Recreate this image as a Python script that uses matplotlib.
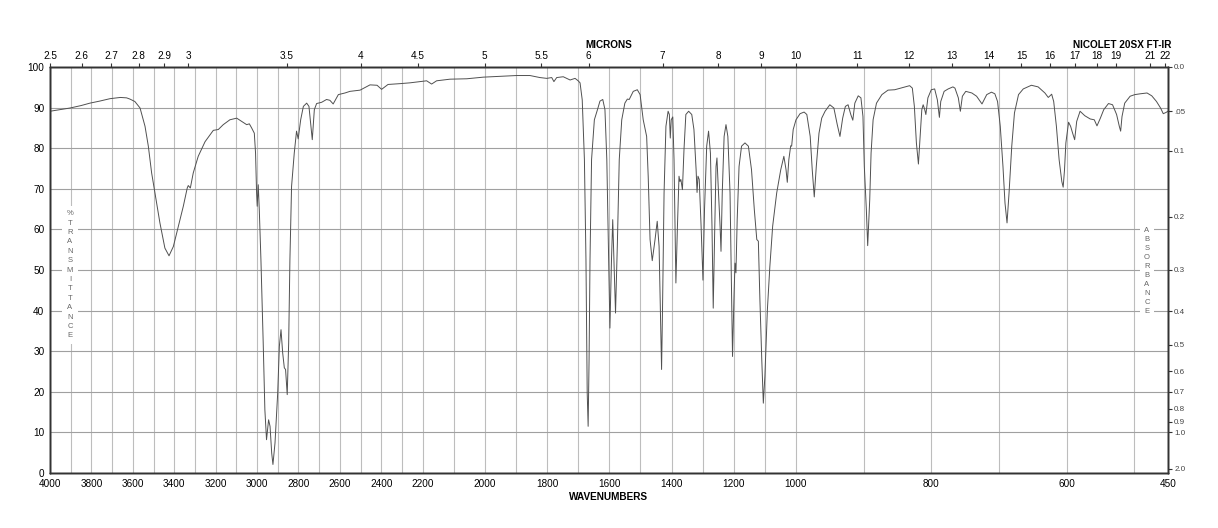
import numpy as np
import matplotlib
matplotlib.use('Agg')
import matplotlib.pyplot as plt

plt.rcParams['font.family'] = ['Liberation Sans', 'DejaVu Sans']

# --- spectrum (wavenumber cm-1, %T) ---
wavenumber = [
    4000, 3950, 3903, 3850, 3807, 3760, 3710, 3660, 3630, 3614, 3590, 3565, 3541, 3525,
    3509, 3493, 3469, 3445, 3425, 3404, 3380, 3356, 3337, 3332, 3322, 3308, 3284, 3251,
    3211, 3187, 3163, 3131, 3098, 3074, 3050, 3037, 3026, 3013, 3007, 3002, 2999, 2994,
    2989, 2981, 2970, 2962, 2954, 2944, 2937, 2929, 2923, 2913, 2900, 2892, 2884, 2876,
    2868, 2862, 2854, 2847, 2841, 2833, 2820, 2809, 2801, 2789, 2776, 2760, 2749, 2741,
    2733, 2723, 2712, 2688, 2664, 2648, 2632, 2607, 2575, 2551, 2502, 2454, 2420, 2398,
    2367, 2309, 2261, 2213, 2187, 2171, 2155, 2112, 2058, 2005, 1951, 1898, 1855, 1823,
    1801, 1785, 1778, 1769, 1748, 1726, 1710, 1700, 1694, 1687, 1680, 1675, 1671, 1668,
    1665, 1662, 1657, 1648, 1638, 1630, 1621, 1614, 1608, 1603, 1598, 1593, 1589, 1585,
    1580, 1574, 1568, 1560, 1550, 1542, 1536, 1523, 1510, 1501, 1491, 1480, 1475, 1469,
    1462, 1453, 1446, 1440, 1435, 1432, 1429, 1424, 1418, 1411, 1407, 1404, 1401, 1396,
    1392, 1388, 1386, 1381, 1376, 1373, 1370, 1365, 1360, 1354, 1345, 1335, 1328, 1321,
    1318, 1315, 1311, 1305, 1299, 1294, 1287, 1281, 1275, 1270, 1266, 1261, 1257, 1254,
    1250, 1244, 1241, 1237, 1231, 1225, 1219, 1212, 1207, 1204, 1199, 1196, 1193, 1189,
    1183, 1175, 1164, 1153, 1143, 1134, 1126, 1121, 1116, 1110, 1105, 1100, 1092, 1084,
    1075, 1062, 1049, 1039, 1032, 1028, 1023, 1017, 1014, 1009, 1000, 994, 988, 984,
    979, 976, 973, 970, 966, 962, 957, 950, 944, 939, 935, 931, 927, 923,
    919, 916, 913, 908, 904, 901, 899, 896, 894, 891, 889, 886, 881, 873,
    864, 854, 841, 832, 828, 825, 822, 819, 817, 814, 812, 810, 808, 805,
    800, 795, 791, 788, 786, 781, 775, 768, 765, 760, 757, 754, 749, 740,
    733, 725, 718, 711, 706, 702, 698, 694, 691, 688, 685, 681, 677, 671,
    664, 652, 642, 632, 627, 622, 619, 615, 611, 607, 605, 603, 601, 597,
    594, 591, 588, 585, 580, 573, 565, 559, 555, 550, 545, 538, 532, 526,
    522, 520, 518, 514, 506, 499, 491, 481, 474, 467, 461, 457, 453, 450,
]
transmittance = [
    89.1, 89.5, 89.9, 90.5, 91.1, 91.6, 92.2, 92.5, 92.4, 92.1, 91.5, 89.9, 85.4, 80.5,
    73.9, 69.0, 61.6, 55.4, 53.5, 55.8, 60.8, 65.7, 70.2, 70.8, 70.2, 73.9, 78.0, 81.6,
    84.4, 84.6, 85.8, 87.0, 87.4, 86.6, 85.8, 86.0, 85.0, 83.7, 78.8, 69.0, 65.7, 71.0,
    64.9, 52.5, 32.0, 15.6, 8.2, 13.1, 11.5, 4.9, 2.1, 7.4, 19.7, 31.2, 35.3, 29.6,
    25.9, 25.5, 19.3, 32.0, 52.5, 70.6, 78.8, 84.2, 82.3, 87.0, 90.3, 91.1, 90.3, 86.2,
    82.1, 89.5, 91.0, 91.3, 92.0, 91.8, 90.9, 93.2, 93.6, 94.0, 94.3, 95.6, 95.5, 94.5,
    95.7, 95.9, 96.1, 96.4, 96.6, 95.8, 96.6, 97.0, 97.1, 97.5, 97.7, 97.9, 97.9, 97.4,
    97.2, 97.4, 96.4, 97.4, 97.6, 96.8, 97.2, 96.6, 96.1, 91.9, 77.2, 52.5, 19.7, 11.5,
    27.9, 52.5, 77.2, 87.0, 89.5, 91.6, 92.0, 89.5, 77.2, 56.7, 35.7, 52.5, 62.4, 52.5,
    39.4, 56.7, 77.2, 87.0, 91.1, 92.1, 92.0, 94.0, 94.4, 93.2, 87.0, 82.9, 73.1, 57.5,
    52.3, 57.5, 62.0, 55.8, 36.1, 25.5, 40.2, 69.0, 85.4, 89.1, 88.3, 82.5, 87.0, 87.7,
    77.2, 56.7, 46.8, 60.8, 73.1, 71.8, 72.3, 69.8, 79.6, 88.3, 89.1, 88.3, 84.6, 74.7,
    69.1, 73.1, 72.3, 60.8, 47.5, 64.9, 80.5, 84.2, 78.8, 60.8, 40.6, 60.8, 75.5, 77.6,
    70.6, 60.8, 54.6, 69.0, 82.9, 85.8, 82.9, 69.0, 44.3, 28.7, 44.3, 51.7, 49.3, 62.4,
    75.5, 80.5, 81.3, 80.5, 74.7, 64.9, 57.5, 57.1, 42.7, 27.9, 17.2, 23.8, 40.2, 50.9,
    60.8, 69.0, 74.7, 78.0, 74.7, 71.6, 77.2, 80.6, 80.5, 84.6, 87.0, 88.5, 88.9, 88.3,
    82.9, 74.7, 68.0, 75.5, 83.7, 87.4, 89.1, 90.7, 89.9, 85.8, 82.9, 87.4, 90.3, 90.7,
    88.3, 86.9, 91.1, 92.9, 92.4, 87.8, 75.5, 64.9, 56.0, 67.3, 78.8, 87.0, 91.1, 93.2,
    94.3, 94.4, 95.0, 95.4, 94.8, 90.3, 81.3, 76.1, 81.3, 89.5, 90.7, 89.7, 88.3, 92.4,
    94.4, 94.6, 91.9, 87.6, 91.5, 94.0, 94.6, 95.1, 94.8, 92.4, 89.1, 92.8, 94.0, 93.6,
    92.8, 90.9, 93.2, 93.8, 93.4, 91.5, 85.4, 75.5, 66.5, 61.6, 69.0, 80.5, 88.7, 93.2,
    94.6, 95.5, 95.1, 93.6, 92.5, 93.3, 91.5, 85.4, 77.2, 71.8, 70.4, 74.7, 81.3, 86.4,
    85.4, 83.7, 82.1, 86.6, 89.1, 88.0, 87.2, 87.0, 85.5, 87.4, 89.5, 91.0, 90.7, 88.3,
    85.4, 84.2, 87.8, 91.1, 92.8, 93.2, 93.4, 93.6, 92.9, 91.5, 89.9, 88.5, 88.8, 89.1,
]

# --- axis labels ---
wn_ticks = [4000, 3800, 3600, 3400, 3200, 3000, 2800, 2600, 2400, 2200, 2000,
            1800, 1600, 1400, 1200, 1000, 800, 600, 450]
micron_ticks = [2.5, 2.6, 2.7, 2.8, 2.9, 3, 3.5, 4, 4.5, 5, 5.5, 6, 7, 8, 9, 10,
                11, 12, 13, 14, 15, 16, 17, 18, 19, 21, 22]
t_ticks = list(range(0, 101, 10))
abs_ticks = [0.0, 0.05, 0.1, 0.2, 0.3, 0.4, 0.5, 0.6, 0.7, 0.8, 0.9, 1.0, 2.0]
abs_labels = ['0.0', '.05', '0.1', '0.2', '0.3', '0.4', '0.5', '0.6', '0.7',
              '0.8', '0.9', '1.0', '2.0']

# chart paper changes its wavenumber scale at 2200 and at 1000
scale_wn = [450, 1000, 2200, 4000]
scale_pos = [0, 372, 745.4, 1118]


def fwd(w):
    return np.interp(w, scale_wn, scale_pos)


def inv(u):
    return np.interp(u, scale_pos, scale_wn)


W, H = 1218, 528
fig = plt.figure(figsize=(W / 100, H / 100), dpi=100)
ax = fig.add_axes([50 / W, 55 / H, 1118 / W, 406 / H])

spine_col = '#333333'
fs = 7.2

ax.plot(wavenumber, transmittance, color='#505050', lw=0.7, zorder=4)
ax.set_xscale('function', functions=(fwd, inv))
ax.set_xlim(4000, 450)
ax.set_ylim(0, 100)

ax.set_xticks(wn_ticks)
ax.set_xticklabels([str(t) for t in wn_ticks])
ax.set_xticks(list(range(500, 4000, 100)), minor=True)
ax.set_yticks(t_ticks)
ax.tick_params(axis='x', which='both', length=0, pad=4, labelsize=fs)
ax.tick_params(axis='y', length=0, pad=4, labelsize=fs)
ax.grid(which='both', axis='x', color='#bdbdbd', lw=0.8)
ax.grid(which='major', axis='y', color='#a0a0a0', lw=0.8)
for s in ax.spines.values():
    s.set_color(spine_col)
    s.set_linewidth(1.0)

# top: microns
ax_top = ax.twiny()
ax_top.set_xscale('function', functions=(fwd, inv))
ax_top.set_xlim(4000, 450)
ax_top.set_xticks([10000 / m for m in micron_ticks])
ax_top.set_xticklabels([f'{m:g}' for m in micron_ticks])
ax_top.tick_params(axis='x', length=3, width=0.8, pad=1, labelsize=fs, color=spine_col)
ax_top.xaxis.set_minor_locator(plt.NullLocator())

# right: absorbance
ax_r = ax.twinx()
ax_r.set_ylim(0, 100)
ax_r.set_yticks([100 * 10 ** (-a) for a in abs_ticks])
ax_r.set_yticklabels(abs_labels)
ax_r.tick_params(axis='y', length=3, width=0.8, pad=1.5, labelsize=5.8,
                 color=spine_col, labelcolor='#444444')
for a in (ax_top, ax_r):
    for s in a.spines.values():
        s.set_color(spine_col)
        s.set_linewidth(1.0)

fig.text(609 / W, 1 - 45 / H, 'MICRONS', ha='center', va='center',
         fontweight='bold', fontsize=fs)
fig.text(609 / W, 1 - 497 / H, 'WAVENUMBERS', ha='center', va='center',
         fontweight='bold', fontsize=fs)
fig.text(1171 / W, 1 - 45 / H, 'NICOLET 20SX FT-IR', ha='right', va='center',
         fontweight='bold', fontsize=fs)

box = dict(facecolor='white', edgecolor='none', pad=3)
ax.text(20 / 1118, 0.488, '\n'.join('%TRANSMITTANCE'), transform=ax.transAxes,
        ha='center', va='center', fontsize=5.5, linespacing=1.48,
        color='#666666', bbox=box, zorder=5)
ax.text(1097 / 1118, 0.498, '\n'.join('ABSORBANCE'), transform=ax.transAxes,
        ha='center', va='center', fontsize=5.5, linespacing=1.39,
        color='#666666', bbox=box, zorder=5)

fig.savefig('out.png', dpi=100, facecolor='white')
